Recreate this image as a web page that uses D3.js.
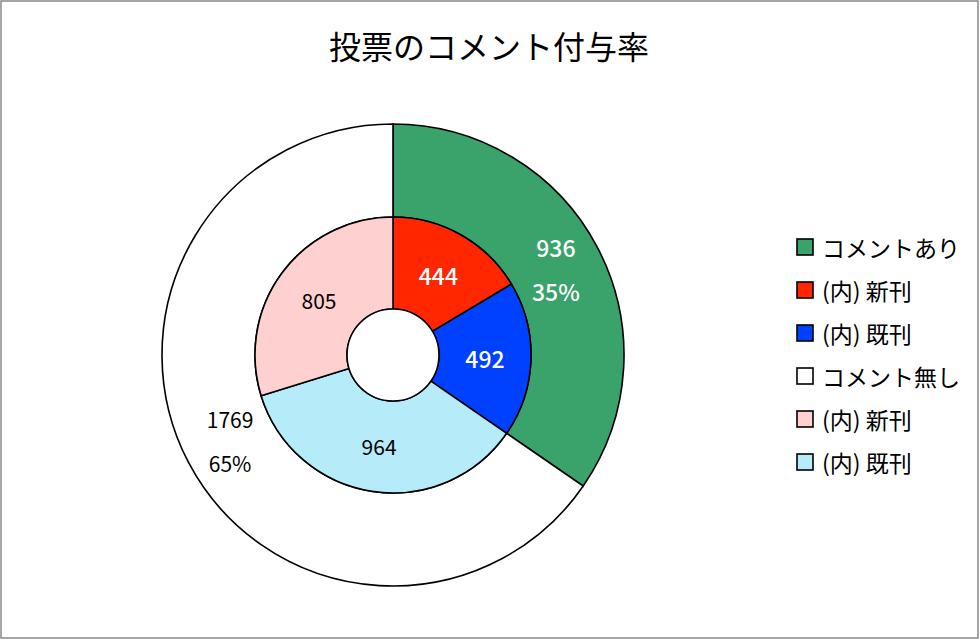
<!DOCTYPE html>
<html><head><meta charset="utf-8">
<script src="https://cdn.jsdelivr.net/npm/d3@7"></script>
<style>html,body{margin:0;padding:0;background:#fff;}svg{display:block;font-family:"Noto Sans CJK JP","Noto Sans",sans-serif;}</style>
</head><body>
<svg id="c" width="980" height="640"></svg>
<script>
const title = "投票のコメント付与率";
const outerLabels = ["コメントあり", "コメント無し"];
const outerValues = [936, 1769];
const innerLabels = ["(内) 新刊", "(内) 既刊", "(内) 既刊", "(内) 新刊"];
const innerValues = [444, 492, 964, 805];
const outerColors = ["#39a36b", "#ffffff"];
const innerColors = ["#ff2600", "#0041ff", "#b6ebf9", "#ffd0d0"];
const legendLabels = ["コメントあり", "(内) 新刊", "(内) 既刊", "コメント無し", "(内) 新刊", "(内) 既刊"];
const legendColors = ["#39a36b", "#ff2600", "#0041ff", "#ffffff", "#ffd0d0", "#b6ebf9"];

const svg = d3.select("#c");
svg.append("rect").attr("x", 1).attr("y", 1).attr("width", 977).attr("height", 637)
  .attr("fill", "#fff").attr("stroke", "#888").attr("stroke-width", 1.5);

svg.append("text").attr("x", 489).attr("y", 45).attr("text-anchor", "middle")
  .attr("dominant-baseline", "central").attr("font-size", 32).attr("fill", "#000").text(title);

const cx = 393, cy = 355;
const g = svg.append("g").attr("transform", `translate(${cx},${cy})`);
const pie = d3.pie().sort(null).value(d => d);
const total = d3.sum(outerValues);

const outerArc = d3.arc().innerRadius(138).outerRadius(231);
const innerArc = d3.arc().innerRadius(46).outerRadius(138);

const op = pie(outerValues);
g.selectAll("path.o").data(op).join("path").attr("class", "o")
  .attr("d", outerArc).attr("fill", (d, i) => outerColors[i])
  .attr("stroke", "#000").attr("stroke-width", 1.6);

const ip = pie(innerValues);
g.selectAll("path.i").data(ip).join("path").attr("class", "i")
  .attr("d", innerArc).attr("fill", (d, i) => innerColors[i])
  .attr("stroke", "#000").attr("stroke-width", 1.6);

g.append("circle").attr("r", 46).attr("fill", "#fff").attr("stroke", "#000").attr("stroke-width", 1.6);

const outerLabelArc = d3.arc().innerRadius(184).outerRadius(184);
op.forEach((d, i) => {
  const [x, y] = outerLabelArc.centroid(d);
  const white = i === 0;
  const t = g.append("text").attr("text-anchor", "middle").attr("dominant-baseline", "central")
    .attr("font-size", white ? 23 : 21).attr("fill", white ? "#fff" : "#000")
    .attr("font-weight", white ? 500 : 400);
  t.append("tspan").attr("x", x).attr("y", y - 22).text(outerValues[i]);
  t.append("tspan").attr("x", x).attr("y", y + 22).text(Math.round(outerValues[i] / total * 100) + "%");
});

const innerLabelArc = d3.arc().innerRadius(92).outerRadius(92);
ip.forEach((d, i) => {
  const [x, y] = innerLabelArc.centroid(d);
  const white = i < 2;
  g.append("text").attr("x", x).attr("y", y).attr("text-anchor", "middle")
    .attr("dominant-baseline", "central").attr("font-size", white ? 23 : 21)
    .attr("fill", white ? "#fff" : "#000").attr("font-weight", white ? 500 : 400)
    .text(innerValues[i]);
});

const lg = svg.append("g");
const rowY = d3.scalePoint().domain(d3.range(legendLabels.length)).range([247, 462]);
legendLabels.forEach((l, i) => {
  const y = rowY(i);
  lg.append("rect").attr("x", 797).attr("y", y - 8).attr("width", 16).attr("height", 16)
    .attr("fill", legendColors[i]).attr("stroke", "#000").attr("stroke-width", 1.6);
  lg.append("text").attr("x", 822).attr("y", y).attr("dominant-baseline", "central")
    .attr("font-size", 23).attr("fill", "#000").text(l);
});
</script>
</body></html>
